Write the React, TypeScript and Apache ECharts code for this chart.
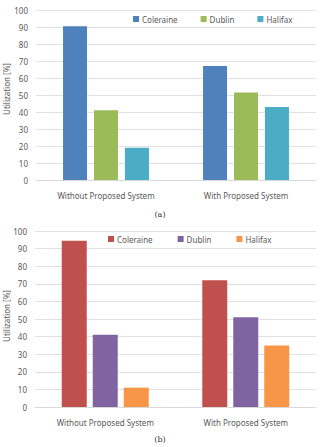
import React, { useEffect, useRef } from "react";
import * as echarts from "echarts";

const categories = ["Without Proposed System", "With Proposed System"];
const seriesNames = ["Coleraine", "Dublin", "Halifax"];
const yAxisTitle = "Utilization [%]";

// Panel (a)
const colerainA = [90.5, 67];
const dublinA = [41, 51.5];
const halifaxA = [19, 43];
const colorsA = ["#4F81BD", "#9BBB59", "#4BACC6"];

// Panel (b)
const colerainB = [94.5, 72];
const dublinB = [41, 51];
const halifaxB = [11, 35];
const colorsB = ["#C0504D", "#8064A2", "#F79646"];

const yTicks = { min: 0, max: 100, interval: 10 };
const FONT = "'Noto Sans', sans-serif";
const TEXT = "#595959";

type Panel = {
  values: number[][];
  colors: string[];
  caption: string;
  gridTop: number;
  gridBottom: number;
  gridLeft: number;
  barWidth: number;
  barGap: string;
  legendLeft: number;
  legendTop: number;
  legendGap: number;
  titleY: number;
};

function buildOption(p: Panel) {
  return {
    animation: false,
    textStyle: { fontFamily: FONT },
    legend: {
      data: seriesNames,
      left: p.legendLeft,
      top: p.legendTop,
      icon: "rect",
      itemWidth: 6,
      itemHeight: 6,
      itemGap: p.legendGap,
      padding: 0,
      textStyle: { fontSize: 8, color: TEXT, fontFamily: FONT, padding: [0, 0, 0, -2] },
    },
    grid: {
      left: p.gridLeft,
      right: 4,
      top: p.gridTop,
      bottom: p.gridBottom,
      containLabel: false,
      outerBoundsMode: "none",
    },
    xAxis: {
      type: "category",
      data: categories,
      axisLine: { lineStyle: { color: "#D9D9D9" } },
      axisTick: { show: false },
      axisLabel: { color: TEXT, fontSize: 8, fontFamily: FONT, margin: 11 },
    },
    yAxis: {
      type: "value",
      min: yTicks.min,
      max: yTicks.max,
      interval: yTicks.interval,
      axisLine: { show: false },
      axisTick: { show: false },
      axisLabel: { color: TEXT, fontSize: 8, fontFamily: FONT, margin: 8 },
      splitLine: { lineStyle: { color: "#D9D9D9", width: 0.8 } },
    },
    series: seriesNames.map((name, i) => ({
      name,
      type: "bar",
      data: p.values[i],
      barWidth: p.barWidth,
      barGap: p.barGap,
      itemStyle: { color: p.colors[i] },
    })),
    graphic: [
      {
        type: "text",
        x: 6,
        y: p.titleY,
        rotation: Math.PI / 2,
        style: {
          text: yAxisTitle,
          fontSize: 8,
          fontFamily: FONT,
          fill: TEXT,
          align: "center",
          verticalAlign: "middle",
        },
      },
      {
        type: "text",
        left: "center",
        bottom: 4,
        style: {
          text: p.caption,
          fontSize: 8,
          fontFamily: "'DejaVu Serif', serif",
          fill: "#333",
        },
      },
    ],
  };
}

function ChartPanel({ panel, top, height }: { panel: Panel; top: number; height: number }) {
  const ref = useRef<HTMLDivElement>(null);
  useEffect(() => {
    if (!ref.current) return;
    const chart = echarts.init(ref.current, undefined, { renderer: "svg" });
    chart.setOption(buildOption(panel));
    return () => chart.dispose();
  }, [panel]);
  return (
    <div
      ref={ref}
      style={{ position: "absolute", left: 0, top, width: 320, height }}
    />
  );
}

const panelA: Panel = {
  values: [colerainA, dublinA, halifaxA],
  colors: colorsA,
  caption: "(a)",
  gridTop: 10,
  gridBottom: 42,
  gridLeft: 36,
  barWidth: 24,
  barGap: "29%",
  legendLeft: 133,
  legendTop: 15,
  legendGap: 23,
  titleY: 89,
};

const panelB: Panel = {
  values: [colerainB, dublinB, halifaxB],
  colors: colorsB,
  caption: "(b)",
  gridTop: 9,
  gridBottom: 40,
  gridLeft: 35,
  barWidth: 25,
  barGap: "24%",
  legendLeft: 108,
  legendTop: 13,
  legendGap: 25,
  titleY: 94,
};

export default function App() {
  return (
    <div style={{ position: "fixed", left: 0, top: 0, width: 320, height: 447, background: "#fff" }}>
      <ChartPanel panel={panelA} top={0} height={222} />
      <ChartPanel panel={panelB} top={222} height={225} />
    </div>
  );
}
